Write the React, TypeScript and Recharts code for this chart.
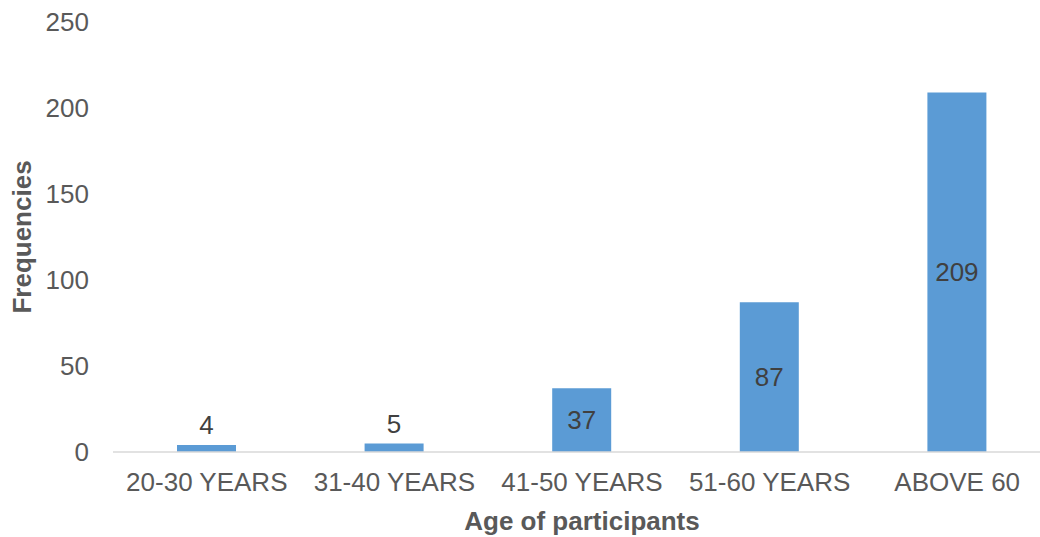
import React from "react";
import { BarChart, Bar, XAxis, YAxis, LabelList } from "recharts";

const categories = ["20-30 YEARS", "31-40 YEARS", "41-50 YEARS", "51-60 YEARS", "ABOVE 60"];
const frequencies = [4, 5, 37, 87, 209];
const yTicks = [0, 50, 100, 150, 200, 250];

const data = categories.map((age, i) => ({ age, value: frequencies[i] }));

const FONT = "'Liberation Sans', Arial, sans-serif";
const TEXT = "#595959";

// centre the label in the bar, or put it above when the bar is too short
const BarValue = (props: any) => {
    const { x, y, width, height, value } = props;
    const cx = x + width / 2;
    const cy = height < 30 ? y - 20 : y + height / 2;
    return (
        <text x={cx} y={cy} dy="0.35em" textAnchor="middle" fill="#404040" fontSize={26} fontFamily={FONT}>
            {value}
        </text>
    );
};

const YTitle = (props: any) => {
    const vb = props.viewBox;
    const cx = vb.x + 22;
    const cy = vb.y + vb.height / 2;
    return (
        <text x={cx} y={cy} dy="0.35em" transform={`rotate(-90, ${cx}, ${cy})`} textAnchor="middle"
            fill={TEXT} fontSize={26} fontWeight="bold" fontFamily={FONT}>
            Frequencies
        </text>
    );
};

const XTitle = (props: any) => {
    const vb = props.viewBox;
    return (
        <text x={vb.x + vb.width / 2} y={vb.y + 78} textAnchor="middle"
            fill={TEXT} fontSize={26} fontWeight="bold" fontFamily={FONT}>
            Age of participants
        </text>
    );
};

export default function App() {
    return (
        <div style={{ position: "absolute", left: 0, top: 0, width: 1040, height: 537, overflow: "hidden", background: "#fff" }}>
            <BarChart width={1051} height={537} data={data} margin={{ top: 22, right: 0, bottom: 0, left: 0 }}>
                <XAxis
                    dataKey="age"
                    height={85}
                    tickSize={0}
                    tickMargin={21}
                    tick={{ fill: TEXT, fontSize: 26, fontFamily: FONT }}
                    axisLine={{ stroke: "#d9d9d9", strokeWidth: 1.5 }}
                    tickLine={false}
                    interval={0}
                    label={{ content: XTitle }}
                />
                <YAxis
                    width={113}
                    domain={[0, 250]}
                    ticks={yTicks}
                    tickSize={0}
                    tickMargin={24}
                    tick={{ fill: TEXT, fontSize: 26, fontFamily: FONT }}
                    axisLine={false}
                    tickLine={false}
                    label={{ content: YTitle }}
                />
                <Bar dataKey="value" fill="#5B9BD5" barSize={59} isAnimationActive={false}>
                    <LabelList dataKey="value" content={BarValue} />
                </Bar>
            </BarChart>
        </div>
    );
}
